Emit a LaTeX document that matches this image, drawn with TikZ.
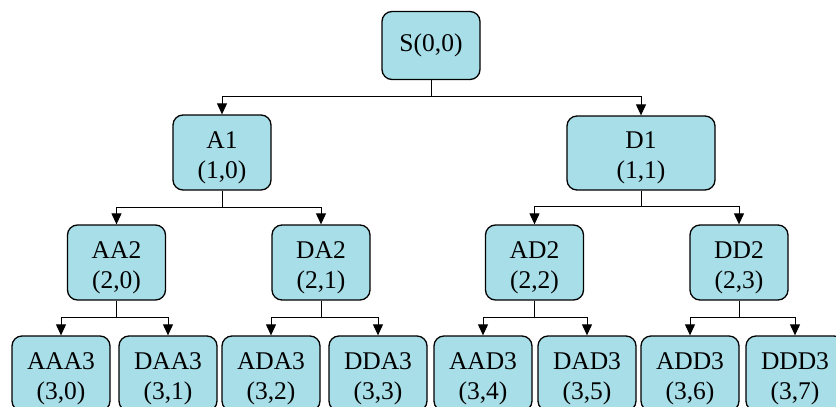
\documentclass[tikz,border=0pt]{standalone}
\usepackage{fontspec}
\setmainfont{Liberation Serif}
\usetikzlibrary{arrows.meta}
\definecolor{boxfill}{RGB}{168,222,232}
\begin{document}
\begin{tikzpicture}[x=1pt,y=-1pt,
  treebox/.style={draw=black, line width=1.3pt, fill=boxfill,
    rounded corners=10pt, minimum width=98pt, minimum height=75pt,
    inner sep=0pt, align=center, font=\fontsize{25.5}{30}\selectfont},
  twoline/.style={treebox, text height=57pt},
  link/.style={draw=black, line width=1pt,
    -{Triangle[length=11pt,width=10pt]}}]
\useasboundingbox (0,0) rectangle (836,407);
\clip (0,0) rectangle (836,407);

% root
\node[treebox, minimum height=68pt] (S) at (431,45.5) {S(0,0)};

% level 1
\node[twoline] (A1) at (222,152.5) {A1\\(1,0)};
\node[twoline, minimum width=148pt, minimum height=74pt] (D1) at (641,153) {D1\\(1,1)};

% level 2
\node[twoline] (AA2) at (116.5,262.5) {AA2\\(2,0)};
\node[twoline] (DA2) at (321,262.5) {DA2\\(2,1)};
\node[twoline] (AD2) at (534.5,262.5) {AD2\\(2,2)};
\node[twoline] (DD2) at (739,262.5) {DD2\\(2,3)};

% level 3
\node[twoline] (AAA3) at (61,373.5) {AAA3\\(3,0)};
\node[twoline] (DAA3) at (168,373.5) {DAA3\\(3,1)};
\node[twoline] (ADA3) at (271,373.5) {ADA3\\(3,2)};
\node[twoline] (DDA3) at (378,373.5) {DDA3\\(3,3)};
\node[twoline] (AAD3) at (483,373.5) {AAD3\\(3,4)};
\node[twoline] (DAD3) at (587,373.5) {DAD3\\(3,5)};
\node[twoline] (ADD3) at (690,373.5) {ADD3\\(3,6)};
\node[twoline] (DDD3) at (795,373.5) {DDD3\\(3,7)};

% connectors: parent stem, horizontal bar, arrow down to child
\foreach \p/\a/\b/\d in {S/A1/D1/16, A1/AA2/DA2/17, D1/AD2/DD2/16,
    AA2/AAA3/DAA3/17, DA2/ADA3/DDA3/17, AD2/AAD3/DAD3/17, DD2/ADD3/DDD3/17}{
  \draw[link] (\p.south) -- ++(0,\d) -| (\a.north);
  \draw[link] (\p.south) -- ++(0,\d) -| (\b.north);
}
\end{tikzpicture}
\end{document}
